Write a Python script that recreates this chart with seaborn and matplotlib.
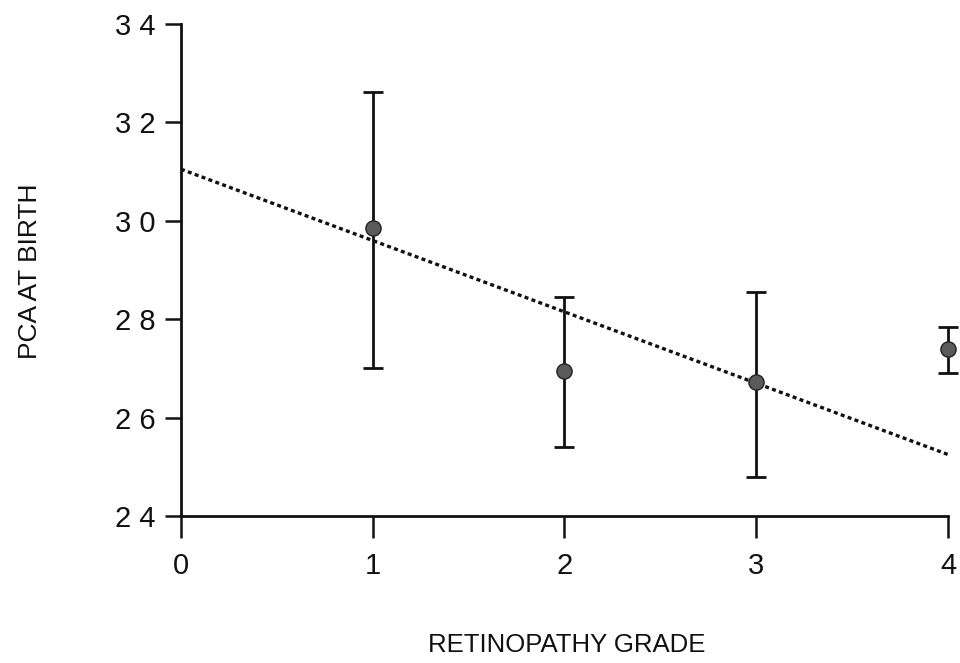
import matplotlib
matplotlib.use("Agg")
import matplotlib.pyplot as plt
import seaborn as sns
import pandas as pd

grades = [1, 2, 3, 4]
means = [29.85, 26.95, 26.72, 27.40]
err_low = [27.0, 25.4, 24.8, 26.9]
err_high = [32.62, 28.45, 28.55, 27.85]

trend_x = [0, 4]
trend_y = [31.05, 25.25]

x_ticks = [0, 1, 2, 3, 4]
y_ticks = [24, 26, 28, 30, 32, 34]
y_ticklabels = ["2 4", "2 6", "2 8", "3 0", "3 2", "3 4"]

sns.set_style("ticks")
plt.rcParams['font.family'] = ['Liberation Sans', 'DejaVu Sans']

fig = plt.figure(figsize=(9.6, 6.63), dpi=100)
ax = fig.add_axes([0.1885, 0.2217, 0.799, 0.742])

df = pd.DataFrame({"grade": grades, "mean": means})
lo = [m - l for m, l in zip(means, err_low)]
hi = [h - m for m, h in zip(means, err_high)]
eb = ax.errorbar(grades, means, yerr=[lo, hi], fmt="none", ecolor="#111111",
                 elinewidth=2.0, capsize=7, capthick=2.0, zorder=2)
for art in eb.lines[1] + eb.lines[2]:
    art.set_clip_on(False)
sns.scatterplot(data=df, x="grade", y="mean", ax=ax, color="#5a5a5a",
                edgecolor="#222222", s=120, marker="o", linewidth=1,
                zorder=3, clip_on=False)

tdf = pd.DataFrame({"x": trend_x, "y": trend_y})
sns.lineplot(data=tdf, x="x", y="y", ax=ax, color="#111111",
             linestyle=(0, (1.2, 1.0)), linewidth=2.4, zorder=1)

ax.set_xlim(0, 4)
ax.set_ylim(24, 34)
ax.set_xticks(x_ticks)
ax.set_xticklabels([str(t) for t in x_ticks])
ax.set_yticks(y_ticks)
ax.set_yticklabels(y_ticklabels)
ax.tick_params(axis="both", direction="out", width=1.8,
               labelsize=21, colors="#111111")
ax.tick_params(axis="y", length=11.5, pad=7)
ax.tick_params(axis="x", length=16, pad=10)
for s in ["top", "right"]:
    ax.spines[s].set_visible(False)
for s in ["left", "bottom"]:
    ax.spines[s].set_linewidth(2.0)
    ax.spines[s].set_color("#111111")

ax.set_xlabel("")
ax.set_ylabel("")
fig.text(0.590, 1 - 652 / 663, "RETINOPATHY GRADE", ha="center", va="baseline",
         fontsize=18.5, color="#111111")
fig.text(0.031, 1 - 271 / 663, "PCA AT BIRTH", ha="center", va="center",
         rotation=90, fontsize=19, color="#111111")

fig.savefig("out.png", dpi=100)
